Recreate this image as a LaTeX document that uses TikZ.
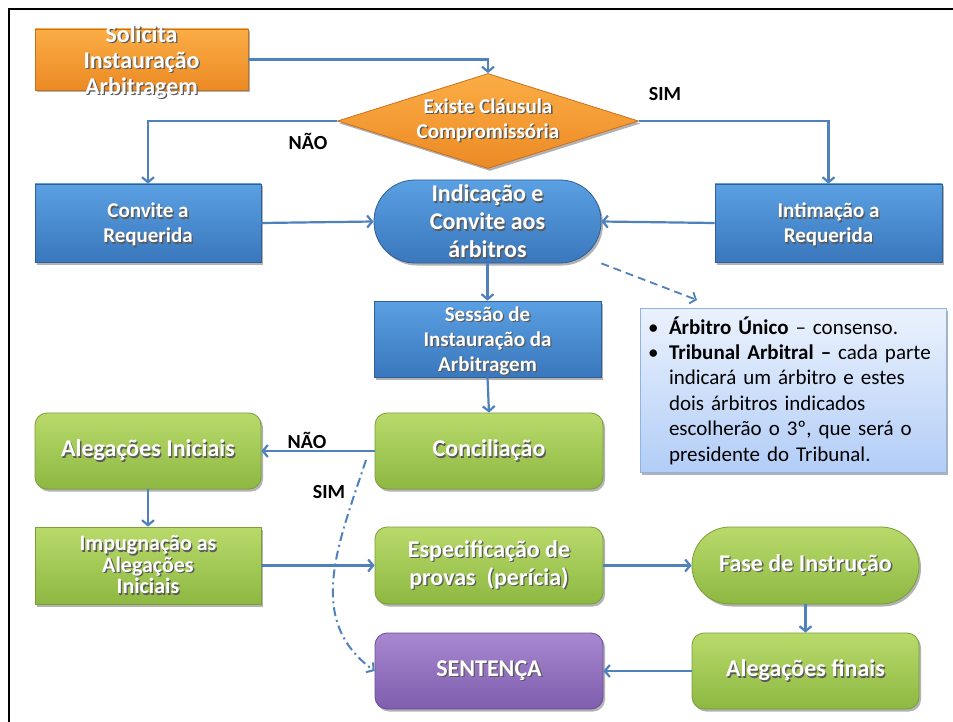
\documentclass[tikz,border=0pt]{standalone}
\usepackage{fontspec}
\setmainfont{Carlito}
\usetikzlibrary{arrows.meta,shapes.geometric,shadows}
\definecolor{lineblue}{HTML}{4F81BD}
\definecolor{blueT}{HTML}{5AA0E2}
\definecolor{blueB}{HTML}{3A77BD}
\definecolor{blueD}{HTML}{2F5F96}
\definecolor{orT}{HTML}{FBAD45}
\definecolor{orB}{HTML}{EC8A24}
\definecolor{orD}{HTML}{C87020}
\definecolor{grT}{HTML}{B9DA6B}
\definecolor{grB}{HTML}{8DB842}
\definecolor{grD}{HTML}{7A9E38}
\definecolor{puT}{HTML}{A888D0}
\definecolor{puB}{HTML}{7E5EAE}
\definecolor{puD}{HTML}{6A4D96}
\definecolor{infT}{HTML}{EBF2FD}
\definecolor{infB}{HTML}{B2CDF7}
\definecolor{infD}{HTML}{8EB4E3}
\definecolor{shadowc}{HTML}{5A5A5A}
\newcommand\shtx[1]{\leavevmode\rlap{\kern1.3pt\raisebox{-1.3pt}{\color{shadowc}#1}}#1}
\begin{document}
\begin{tikzpicture}[x=1pt,y=-1pt,
  conn/.style={draw=lineblue, line width=2.2pt, -{Straight Barb[length=5pt,width=12pt]}},
  base/.style={inner sep=0pt, align=center, text=white, line width=0.8pt,
    font=\bfseries\fontsize{24}{28}\selectfont,
    drop shadow={shadow xshift=2pt,shadow yshift=-2.5pt,opacity=0.3,fill=black}},
  bluebox/.style={base, rectangle, top color=blueT, bottom color=blueB, draw=blueD},
  orbox/.style={base, rectangle, top color=orT, bottom color=orB, draw=orD},
  grbox/.style={base, rectangle, rounded corners=12pt, top color=grT, bottom color=grB, draw=grD},
  pubox/.style={base, rectangle, rounded corners=12pt, top color=puT, bottom color=puB, draw=puD},
  lbl/.style={font=\bfseries\fontsize{20}{24}\selectfont, text=black, inner sep=0pt},
  sollbl/.style={align=center, text=white, inner sep=0pt, font=\bfseries\fontsize{24}{26}\selectfont},
  small/.style={font=\bfseries\fontsize{21}{25}\selectfont, text depth=-3pt}
]
\useasboundingbox (0,0) rectangle (953,722);
\fill[white] (0,0) rectangle (953,722);
\draw[line width=2pt] (9,722) -- (9,9) -- (953,9);

\node[orbox, minimum width=213pt, minimum height=61pt,
  label={[sollbl, yshift=-3pt]center:\shtx{Solicita}\\\shtx{Instauração}\\\shtx{Arbitragem}}] (sol) at (141.5,59.5) {};
\node[base, diamond, aspect=3.2, minimum width=301pt, minimum height=95pt,
  top color=orT, bottom color=orB, draw=orD, font=\bfseries\fontsize{21}{25}\selectfont] (dia) at (488,121) {\shtx{Existe Cláusula}\\\shtx{Compromissória}};

\node[bluebox, small, minimum width=226pt, minimum height=78pt] (conv) at (148,223) {\shtx{Convite a}\\\shtx{Requerida}};
\node[bluebox, small, minimum width=227pt, minimum height=78pt] (intim) at (828.5,223) {\shtx{Intimação a}\\\shtx{Requerida}};
\node[base, rectangle, rounded corners=41pt, top color=blueT, bottom color=blueB, draw=blueD,
  minimum width=227pt, minimum height=83pt, text depth=-2pt] (ind) at (487.5,221.5) {\shtx{Indicação e}\\\shtx{Convite aos}\\\shtx{árbitros}};
\node[bluebox, font=\bfseries\fontsize{21}{25}\selectfont, minimum width=227pt, minimum height=76pt, text depth=-4pt] (sess) at (487.5,339) {\shtx{Sessão de}\\\shtx{Instauração da}\\\shtx{Arbitragem}};

\node[draw=infD, top color=infT, bottom color=infB, line width=0.8pt,
  minimum width=306pt, minimum height=163pt, inner sep=8pt, text width=290pt, align=left, text=black,
  font=\fontsize{21}{25.4}\selectfont,
  drop shadow={shadow xshift=2pt,shadow yshift=-2.5pt,opacity=0.3,fill=black}] (info) at (793,390.5) {%
\makebox[21pt][l]{\textbullet}\textbf{Árbitro Único} – consenso.\\
\makebox[21pt][l]{\textbullet}\textbf{Tribunal Arbitral –} cada parte\\
\hspace*{21pt}indicará um árbitro e estes\\
\hspace*{21pt}dois árbitros indicados\\
\hspace*{21pt}escolherão o 3º, que será o\\
\hspace*{21pt}presidente do Tribunal.};

\node[grbox, minimum width=228pt, minimum height=76pt] (conc) at (489,451) {\shtx{Conciliação}};
\node[grbox, minimum width=226pt, minimum height=76pt] (aleg) at (148,451) {\shtx{Alegações Iniciais}};
\node[base, rectangle, top color=grT, bottom color=grB, draw=grD, minimum width=226pt, minimum height=77pt,
  font=\bfseries\fontsize{22}{21.5}\selectfont] (imp) at (148,565.5) {\shtx{Impugnação as}\\\shtx{Alegações}\\\shtx{Iniciais}};
\node[grbox, minimum width=228pt, minimum height=77pt] (esp) at (489,565.5) {\shtx{Especificação de}\\\shtx{provas\ \ (perícia)}};
\node[base, rectangle, rounded corners=38pt, top color=grT, bottom color=grB, draw=grD,
  minimum width=227pt, minimum height=77pt] (fase) at (805.5,565.5) {\shtx{Fase de Instrução}};
\node[grbox, minimum width=227pt, minimum height=76pt] (alf) at (805.5,671) {\shtx{Alegações finais}};
\node[pubox, minimum width=228pt, minimum height=76pt] (sent) at (489,671) {\shtx{SENTENÇA}};

\node[lbl] (nao1) at (308,141) {NÃO};
\node[lbl] (sim1) at (665,94) {SIM};
\node[lbl] (nao2) at (307,440) {NÃO};
\node[lbl] (sim2) at (329,492) {SIM};

\draw[conn] (sol.east) -| (dia.north);
\draw[conn] (dia.west) -| (conv.north);
\draw[conn] (dia.east) -| (intim.north);
\draw[conn] (conv.east) -- (ind.west);
\draw[conn] (intim.west) -- (ind.east);
\coordinate (dend) at (697,300);
\draw[conn, line width=1.8pt, dash pattern=on 8pt off 5pt] (ind.south east) -- (dend);
\draw[conn] (ind.south) -- (sess.north);
\draw[conn] (sess.south) -- (conc.north);
\draw[conn] (conc.west) -- (aleg.east);
\coordinate (simstart) at (366,460);
\draw[conn, line width=2pt, dash pattern=on 9pt off 4pt on 2pt off 4pt] (simstart) .. controls (338,545) and (305,620) .. (sent.west);
\draw[conn] (aleg.south) -- (imp.north);
\draw[conn] (imp.east) -- (esp.west);
\draw[conn] (esp.east) -- (fase.west);
\draw[conn] (fase.south) -- (alf.north);
\draw[conn] (alf.west) -- (sent.east);
\end{tikzpicture}
\end{document}
